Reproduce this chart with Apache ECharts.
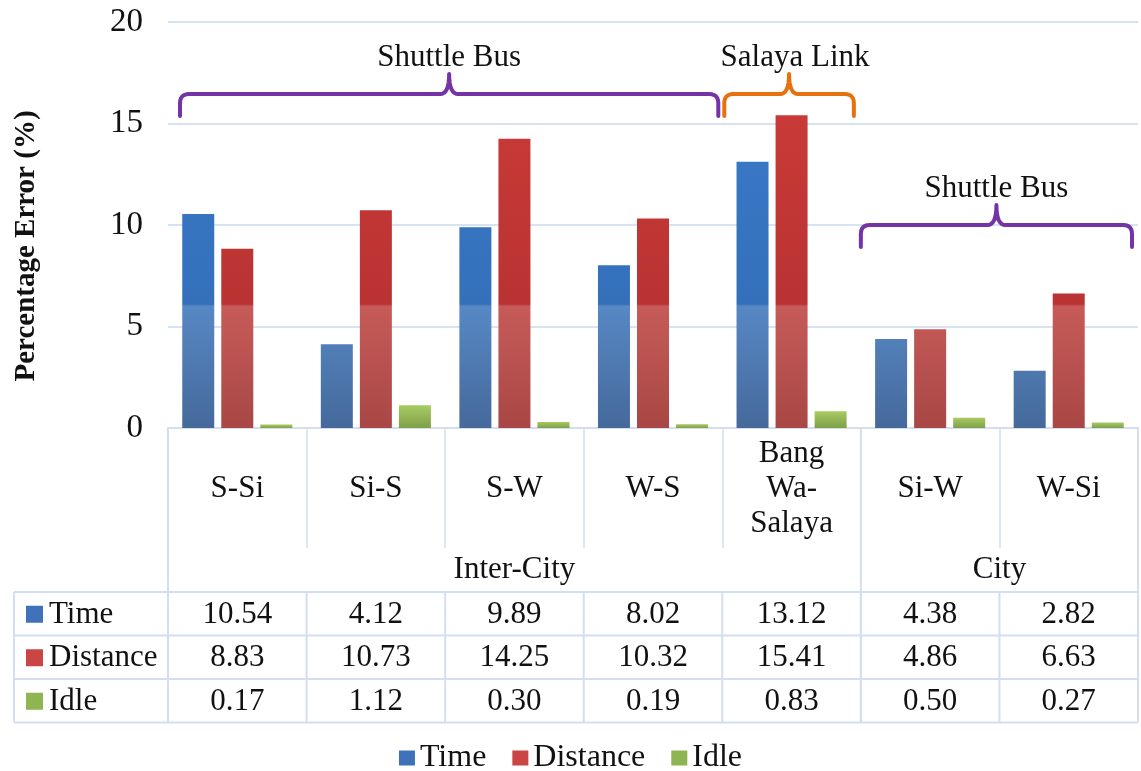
<!DOCTYPE html>
<html>
<head>
<meta charset="utf-8">
<script src="https://cdn.jsdelivr.net/npm/echarts@6/dist/echarts.min.js"></script>
<style>
    html, body { margin: 0; padding: 0; background: #fff; }
    #main { width: 1141px; height: 771px; }
</style>
</head>
<body>
<div id="main"></div>
<script>
// 数据
const categories = ['S-Si', 'Si-S', 'S-W', 'W-S', 'Bang\nWa-\nSalaya', 'Si-W', 'W-Si']
const seriesNames = ['Time', 'Distance', 'Idle']
const timeErr = [10.54, 4.12, 9.89, 8.02, 13.12, 4.38, 2.82]
const distErr = [8.83, 10.73, 14.25, 10.32, 15.41, 4.86, 6.63]
const idleErr = [0.17, 1.12, 0.30, 0.19, 0.83, 0.50, 0.27]
const yTicks = { min: 0, max: 20, interval: 5 }
// 分组 (表头第二行)
const groups = [
    { name: 'Inter-City', from: 0, to: 4 },
    { name: 'City', from: 5, to: 6 }
]
// 括号标注
const brackets = [
    { label: 'Shuttle Bus', from: 0, to: 3 },
    { label: 'Salaya Link', from: 4, to: 4 },
    { label: 'Shuttle Bus', from: 5, to: 6 }
]

const FONT = '"Liberation Serif", "Times New Roman", serif'
const GRID = { left: 168, right: 3, top: 22, bottom: 343 }
const H = 771
const plotBottom = H - GRID.bottom
const lineColor = '#d3dff0'

function grad(c1, c2, c3, c4) {
    // 全局渐变, 模拟原图下部的浅色区域
    return new echarts.graphic.LinearGradient(0, GRID.top, 0, plotBottom, [
        { offset: 0, color: c1 },
        { offset: 0.695, color: c2 },
        { offset: 0.7, color: c3 },
        { offset: 1, color: c4 }
    ], true)
}

const colors = {
    Time: grad('#3d7ecf', '#3470ba', '#5788c4', '#45699b'),
    Distance: grad('#d03d3a', '#b93332', '#c65b59', '#a84745'),
    Idle: new echarts.graphic.LinearGradient(0, 0, 0, 1, [
        { offset: 0, color: '#a8cb62' },
        { offset: 1, color: '#7f9f4a' }
    ])
}
const flatColors = { Time: '#3f72b8', Distance: '#c94644', Idle: '#8fb452' }

const chart = echarts.init(document.getElementById('main'))

const option = {
    animation: false,
    grid: GRID,
    legend: {
        top: 737,
        left: 'center',
        icon: 'rect',
        itemWidth: 16,
        itemHeight: 15,
        itemGap: 26,
        textStyle: { fontFamily: FONT, fontSize: 32, color: '#111' },
        data: seriesNames.map(n => ({ name: n, itemStyle: { color: flatColors[n] } }))
    },
    xAxis: {
        type: 'category',
        data: categories,
        axisLine: { lineStyle: { color: lineColor, width: 2 } },
        axisTick: { show: true, length: 120, interval: 0, lineStyle: { color: lineColor, width: 1.5 } },
        axisLabel: {
            interval: 0,
            margin: 61,
            verticalAlign: 'middle',
            fontFamily: FONT,
            fontSize: 31,
            lineHeight: 35,
            color: '#111'
        }
    },
    yAxis: {
        type: 'value',
        min: yTicks.min,
        max: yTicks.max,
        interval: yTicks.interval,
        axisLine: { show: false },
        axisTick: { show: false },
        axisLabel: { margin: 25, fontFamily: FONT, fontSize: 33, color: '#111' },
        splitLine: { lineStyle: { color: '#d8e3f2', width: 2 } }
    },
    series: [
        { name: 'Time', type: 'bar', data: timeErr, barWidth: 32, barGap: '22%', itemStyle: { color: colors.Time } },
        { name: 'Distance', type: 'bar', data: distErr, barWidth: 32, barGap: '22%', itemStyle: { color: colors.Distance } },
        { name: 'Idle', type: 'bar', data: idleErr, barWidth: 32, barGap: '22%', itemStyle: { color: colors.Idle } }
    ]
}
chart.setOption(option)

// 二次曲线采样
function quad(pts, p0, c, p1, n) {
    for (let t = 1; t <= n; t++) {
        const s = t / n
        pts.push([
            (1 - s) * (1 - s) * p0[0] + 2 * (1 - s) * s * c[0] + s * s * p1[0],
            (1 - s) * (1 - s) * p0[1] + 2 * (1 - s) * s * c[1] + s * s * p1[1]
        ])
    }
}

// 表格 + 括号 (基于坐标轴换算像素)
function buildGraphics() {
    const cx = i => chart.convertToPixel({ xAxisIndex: 0 }, i)
    const py = v => chart.convertToPixel({ yAxisIndex: 0 }, v)
    const band = cx(1) - cx(0)
    const leftEdge = i => cx(i) - band / 2
    const rightEdge = i => cx(i) + band / 2
    const x0 = leftEdge(0)
    const xEnd = rightEdge(categories.length - 1)
    const tableLeft = 14
    const headBottom = 592
    const rowH = 43.5
    const rows = [timeErr, distErr, idleErr]
    const tableBottom = headBottom + rowH * rows.length
    const tFont = '31px ' + FONT

    const els = []
    const line = (x1, y1, x2, y2) => els.push({
        type: 'line', silent: true,
        shape: { x1, y1, x2, y2 },
        style: { stroke: lineColor, lineWidth: 2 }
    })
    const text = (str, x, y, align, font) => els.push({
        type: 'text', silent: true, x, y,
        style: {
            text: str, font: font || tFont, fill: '#111',
            textAlign: align, align: align,
            textVerticalAlign: 'middle', verticalAlign: 'middle'
        }
    })

    // 外框与分隔线
    line(x0, plotBottom, x0, tableBottom)
    line(xEnd, plotBottom, xEnd, tableBottom)
    line(tableLeft, headBottom, tableLeft, tableBottom)
    for (let r = 0; r <= rows.length; r++) {
        line(tableLeft, headBottom + r * rowH, xEnd, headBottom + r * rowH)
    }
    groups.forEach((g, gi) => {
        if (gi > 0) line(leftEdge(g.from), plotBottom, leftEdge(g.from), tableBottom)
        text(g.name, (leftEdge(g.from) + rightEdge(g.to)) / 2, 570, 'center')
    })
    for (let i = 1; i < categories.length; i++) {
        line(leftEdge(i), headBottom, leftEdge(i), tableBottom)
    }

    // 数据行
    rows.forEach((arr, r) => {
        const yc = headBottom + rowH * (r + 0.5)
        const name = seriesNames[r]
        els.push({
            type: 'rect', silent: true,
            shape: { x: 26, y: yc - 8, width: 17, height: 17 },
            style: { fill: flatColors[name] }
        })
        text(name, 49, yc + 1, 'left')
        arr.forEach((v, i) => text(v.toFixed(2), cx(i), yc + 1, 'center'))
    })

    // 纵轴标题
    els.push({
        type: 'text', silent: true, x: 27, y: 246, rotation: Math.PI / 2,
        style: {
            text: 'Percentage Error (%)', font: 'bold 29px ' + FONT, fill: '#111',
            textAlign: 'center', align: 'center',
            textVerticalAlign: 'middle', verticalAlign: 'middle'
        }
    })

    // 括号
    const cfg = [
        { pad: [12, 4], level: 16.45, color: '#7534a6', labelDx: 0 },
        { pad: [2, 7], level: 16.45, color: '#e8710f', labelDx: 6 },
        { pad: [0, 6], level: 10.0, color: '#7534a6', labelDx: 0 }
    ]
    brackets.forEach((b, k) => {
        const c = cfg[k]
        const x1 = leftEdge(b.from) + c.pad[0]
        const x2 = rightEdge(b.to) - c.pad[1]
        const xm = (x1 + x2) / 2
        const yh = py(c.level)
        const yb = yh + 22
        const yt = yh - 20
        const r = 9
        const pts = [[x1, yb], [x1, yh + r]]
        quad(pts, [x1, yh + r], [x1, yh], [x1 + r, yh], 6)
        pts.push([xm - r, yh])
        quad(pts, [xm - r, yh], [xm, yh], [xm, yt], 8)
        quad(pts, [xm, yt], [xm, yh], [xm + r, yh], 8)
        pts.push([x2 - r, yh])
        quad(pts, [x2 - r, yh], [x2, yh], [x2, yh + r], 6)
        pts.push([x2, yb])
        els.push({
            type: 'polyline', silent: true,
            shape: { points: pts },
            style: { stroke: c.color, lineWidth: 4, fill: null, lineJoin: 'round', lineCap: 'round' }
        })
        text(b.label, xm + c.labelDx, yt - 16, 'center')
    })

    chart.setOption({ graphic: { elements: els } })
}
buildGraphics()
</script>
</body>
</html>
